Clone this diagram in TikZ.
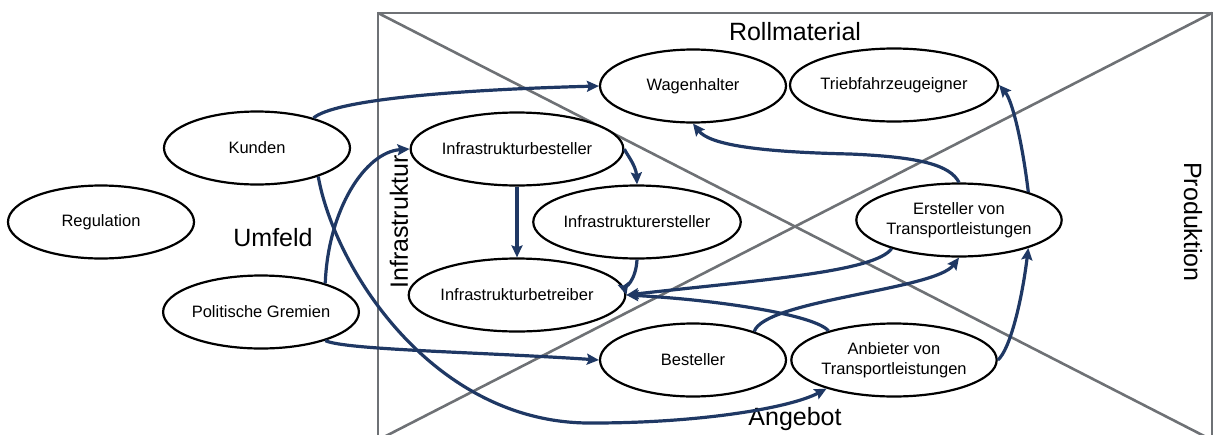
\documentclass[tikz,border=0pt]{standalone}
\usepackage{fontspec}
\setmainfont{Liberation Sans}
\usetikzlibrary{shapes.geometric,arrows.meta}
\definecolor{navy}{HTML}{1F3864}
\definecolor{frame}{HTML}{6E7175}
\tikzset{
  actor/.style={ellipse,draw=black,line width=2.2pt,fill=white,minimum width=186pt,minimum height=73pt,inner sep=0pt,
    font=\fontsize{16.5}{20}\selectfont,align=center},
  biglabel/.style={font=\fontsize{25}{28}\selectfont,inner sep=0pt},
  flow/.style={draw=navy,line width=3.2pt,-{Stealth[length=12pt,width=11pt,inset=2pt]}},
  framel/.style={draw=frame,line width=2.6pt}
}
\begin{document}
\begin{tikzpicture}[x=1pt,y=-1pt]
\useasboundingbox (0,0) rectangle (1215,434);
\begin{scope}
\clip (0,0) rectangle (1215,434);
\draw[framel] (378,13) rectangle (1212,440);
\draw[framel] (378,13) -- (1212,440);
\draw[framel] (1212,13) -- (378,440);
\end{scope}
% labels
\node[biglabel] (umfeld) at (273,238) {Umfeld};
\node[biglabel] (roll) at (795,32) {Rollmaterial};
\node[biglabel] (angebot) at (795,419) {Angebot};
\node[biglabel,rotate=-90] (prod) at (1193,222) {Produktion};
\node[biglabel,rotate=90] (infra) at (399,222) {Infrastruktur};
% actors
\node[actor] (reg) at (101,222) {Regulation};
\node[actor] (kunden) at (257,148) {Kunden};
\node[actor] (pg) at (261,312) {Politische Gremien};
\node[actor] (wagen) at (693,86) {Wagenhalter};
\node[actor] (trieb) at (894,85) {Triebfahrzeugeigner};
\node[actor] (ibest) at (517,149) {Infrastrukturbesteller};
\node[actor] (iers) at (637,222) {Infrastrukturersteller};
\node[actor] (ibetr) at (517,295) {Infrastrukturbetreiber};
\node[actor] (best) at (693,360) {Besteller};
\node[actor] (ers) at (959,220) {Ersteller von\\Transportleistungen};
\node[actor] (anb) at (894,360) {Anbieter von\\Transportleistungen};
% flows
\draw[flow] (kunden.28) .. controls (335,100) and (450,90) .. (wagen.west);
\draw[flow] (kunden.-25) .. controls (335,270) and (435,425) .. (593,423)
  .. controls (700,423) and (790,408) .. (anb.-157);
\draw[flow] (pg.24) .. controls (328,210) and (365,152) .. (ibest.west);
\draw[flow] (pg.-24) .. controls (345,350) and (480,352) .. (best.west);
\draw[flow] (ibest.south) -- (ibetr.north);
\draw[flow] (ibest.east) .. controls (625,152) and (636,165) .. (iers.north);
\draw[flow] (iers.south) .. controls (636,280) and (625,290) .. (ibetr.east);
\draw[flow] (ers.-157) .. controls (875,272) and (760,280) .. (ibetr.east);
\draw[flow] (anb.156) .. controls (815,315) and (720,300) .. (ibetr.east);
\draw[flow] (best.25) .. controls (765,300) and (935,290) .. (ers.south);
\draw[flow] (anb.east) .. controls (1010,350) and (1022,300) .. (ers.-22);
\draw[flow] (ers.22) .. controls (1022,140) and (1012,100) .. (trieb.east);
\draw[flow] (ers.north) .. controls (950,165) and (920,157) .. (850,154)
  .. controls (760,152) and (710,145) .. (wagen.south);
\end{tikzpicture}
\end{document}
